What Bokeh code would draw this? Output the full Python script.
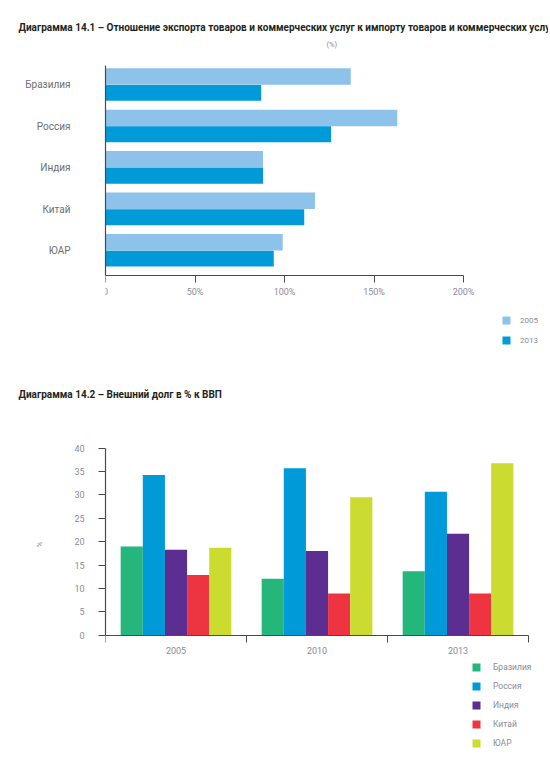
from bokeh.plotting import figure
from bokeh.layouts import column
from bokeh.models import (ColumnDataSource, Range1d, FixedTicker, LinearAxis,
                          Legend, LegendItem, Title)
from bokeh.transform import dodge
from bokeh.embed import file_html
from bokeh.resources import INLINE

# ---------------- data: chart 14.1 ----------------
countries = ["Бразилия", "Россия", "Индия", "Китай", "ЮАР"]
exp_imp_2005 = [137, 163, 88, 117, 99]
exp_imp_2013 = [87, 126, 88, 111, 94]
series_1 = ["2005", "2013"]
x_ticks_1 = [0, 50, 100, 150, 200]
x_tick_labels_1 = ["0", "50%", "100%", "150%", "200%"]

# ---------------- data: chart 14.2 ----------------
years = ["2005", "2010", "2013"]
debt_brazil = [19.0, 12.1, 13.7]
debt_russia = [34.3, 35.7, 30.7]
debt_india = [18.3, 18.0, 21.7]
debt_china = [12.9, 8.9, 8.9]
debt_sa = [18.7, 29.5, 36.8]
y_ticks_2 = [0, 5, 10, 15, 20, 25, 30, 35, 40]

TITLE_1 = "Диаграмма 14.1 – Отношение экспорта товаров и коммерческих услуг к импорту товаров и коммерческих услуг"
TITLE_2 = "Диаграмма 14.2 – Внешний долг в % к ВВП"

FONT = "Roboto"
AXIS_COLOR = "#4a4a4a"
TICK_TEXT = "#8a8c96"
LABEL_TEXT = "#6d6e71"
LIGHT_BLUE = "#8dc3ea"
DARK_BLUE = "#009ad9"
COLORS_2 = ["#25b67b", "#009ad9", "#5c2e91", "#ee3441", "#cbdb2f"]

W = 548
BORDER_L = 105   # both frames share the same horizontal extent (column aligns them)
BORDER_R = 8


def style_common(p):
    p.outline_line_color = None
    p.grid.visible = False
    p.background_fill_color = "white"
    p.border_fill_color = "white"


def style_title(t, size="10px"):
    t.text_font = FONT
    t.text_font_size = size
    t.text_font_style = "bold"
    t.text_color = "#231f20"
    t.align = "left"


# ================= chart 14.1 =================
# categories are placed top-to-bottom at positions n..1 on the y scale
cat_pos = list(range(len(countries), 0, -1))
src1 = ColumnDataSource(dict(pos=cat_pos, country=countries,
                             v2005=exp_imp_2005, v2013=exp_imp_2013))
AXIS_Y_1 = 0.4     # where the value axis crosses the category scale
TOP_Y_1 = 5.466    # top end of the category axis line

p1 = figure(width=W, height=372, title=TITLE_1,
            x_range=Range1d(0, 243.0), y_range=Range1d(-1.316, 5.804),
            output_backend="svg", toolbar_location=None,
            min_border_left=BORDER_L, min_border_right=BORDER_R,
            min_border_top=51, min_border_bottom=26)
style_common(p1)
style_title(p1.title)
p1.title.offset = -87
p1.title.standoff = 4
p1.add_layout(Title(text="(%)", align="left", offset=221, standoff=6, text_font=FONT,
                    text_font_size="7.5px", text_font_style="normal",
                    text_color=TICK_TEXT), "above")

r05 = p1.hbar(y=dodge("pos", 0.2), left=0, right="v2005", height=0.4,
              source=src1, fill_color=LIGHT_BLUE, line_color=None)
r13 = p1.hbar(y=dodge("pos", -0.195), left=0, right="v2013", height=0.385,
              source=src1, fill_color=DARK_BLUE, line_color=None)

p1.xaxis.ticker = FixedTicker(ticks=x_ticks_1)
p1.xaxis.major_label_overrides = {t: l for t, l in zip(x_ticks_1, x_tick_labels_1)}
p1.xaxis.bounds = (x_ticks_1[0], x_ticks_1[-1])
p1.xaxis.fixed_location = AXIS_Y_1
p1.xaxis.minor_tick_line_color = None
p1.xaxis.major_tick_in = 0
p1.xaxis.major_tick_out = 7
p1.xaxis.major_label_standoff = 5
p1.xaxis.axis_line_color = AXIS_COLOR
p1.xaxis.major_tick_line_color = AXIS_COLOR
p1.xaxis.axis_line_width = 1.2
p1.xaxis.major_label_text_font = FONT
p1.xaxis.major_label_text_font_size = "9px"
p1.xaxis.major_label_text_color = TICK_TEXT

p1.yaxis.ticker = FixedTicker(ticks=cat_pos)
p1.yaxis.major_label_overrides = {p: c for p, c in zip(cat_pos, countries)}
p1.yaxis.bounds = (AXIS_Y_1, TOP_Y_1)
p1.yaxis.major_tick_line_color = None
p1.yaxis.minor_tick_line_color = None
p1.yaxis.major_tick_out = 0
p1.yaxis.major_tick_in = 0
p1.yaxis.major_label_standoff = 35
p1.yaxis.major_label_text_font = FONT
p1.yaxis.major_label_text_font_size = "10px"
p1.yaxis.major_label_text_color = LABEL_TEXT
p1.yaxis.axis_line_color = AXIS_COLOR
p1.yaxis.axis_line_width = 1.2

leg1 = Legend(items=[LegendItem(label=series_1[0], renderers=[r05]),
                     LegendItem(label=series_1[1], renderers=[r13])],
              location=(396, 1), orientation="vertical",
              glyph_width=10, glyph_height=10, label_height=10, spacing=10,
              label_standoff=9, padding=0, margin=0, border_line_color=None,
              background_fill_alpha=0, label_text_font=FONT,
              label_text_font_size="8px", label_text_color=TICK_TEXT)
p1.add_layout(leg1)

# ================= chart 14.2 =================
# year groups sit at unit-wide slots 0..n on the x scale
group_centers = [i + 0.5 for i in range(len(years))]
group_edges = [i for i in range(len(years) + 1)]
src2 = ColumnDataSource(dict(gx=group_centers, year=years, brazil=debt_brazil,
                             russia=debt_russia, india=debt_india,
                             china=debt_china, sa=debt_sa))

p2 = figure(width=W, height=400, title=TITLE_2,
            x_range=Range1d(0, 3.085), y_range=Range1d(-24.24, 50),
            output_backend="svg", toolbar_location=None,
            min_border_left=BORDER_L, min_border_right=BORDER_R,
            min_border_top=29, min_border_bottom=24)
style_common(p2)
style_title(p2.title)
p2.title.offset = -87
p2.title.standoff = 4
p2.xaxis.visible = False

bar_w = 0.157
fields = ["brazil", "russia", "india", "china", "sa"]
renderers2 = []
for i, (f, c) in enumerate(zip(fields, COLORS_2)):
    r = p2.vbar(x=dodge("gx", (i - 2) * bar_w), top=f, bottom=0,
                width=bar_w, source=src2, fill_color=c, line_color=None)
    renderers2.append(r)

xax2 = LinearAxis(ticker=FixedTicker(ticks=group_centers, minor_ticks=group_edges))
xax2.major_label_overrides = {c: y for c, y in zip(group_centers, years)}
xax2.fixed_location = 0
xax2.bounds = (group_edges[0], group_edges[-1])
xax2.major_tick_line_color = None
xax2.major_tick_in = 0
xax2.major_tick_out = 0
xax2.minor_tick_in = 0
xax2.minor_tick_out = 7
xax2.minor_tick_line_color = AXIS_COLOR
xax2.axis_line_color = AXIS_COLOR
xax2.axis_line_width = 1.2
xax2.major_label_standoff = 5
xax2.major_label_text_font = FONT
xax2.major_label_text_font_size = "9px"
xax2.major_label_text_color = TICK_TEXT
p2.add_layout(xax2, "below")

yax2 = p2.yaxis[0]
yax2.ticker = FixedTicker(ticks=y_ticks_2)
yax2.bounds = (y_ticks_2[0], y_ticks_2[-1])
yax2.minor_tick_line_color = None
yax2.major_tick_in = 0
yax2.major_tick_out = 7
yax2.major_label_standoff = 14
yax2.axis_line_color = AXIS_COLOR
yax2.major_tick_line_color = AXIS_COLOR
yax2.axis_line_width = 1.2
yax2.major_label_text_font = FONT
yax2.major_label_text_font_size = "9px"
yax2.major_label_text_color = TICK_TEXT

# unit label "%" of the value axis, beside the 0..40 part of the axis
p2.add_layout(Title(text="%", align="left", offset=201, standoff=56,
                    vertical_align="bottom", text_font=FONT,
                    text_font_size="8px", text_font_style="normal",
                    text_color=TICK_TEXT), "left")

leg2 = Legend(items=[LegendItem(label=c, renderers=[r]) for c, r in zip(countries, renderers2)],
              location=(366, 0), orientation="vertical",
              glyph_width=10, glyph_height=10, label_height=10, spacing=9,
              label_standoff=12, padding=0, margin=0, border_line_color=None,
              background_fill_alpha=0, label_text_font=FONT,
              label_text_font_size="8.5px", label_text_color=TICK_TEXT)
p2.add_layout(leg2)

layout = column(p1, p2, spacing=0)
open("out.html", "w").write(file_html(layout, INLINE))
